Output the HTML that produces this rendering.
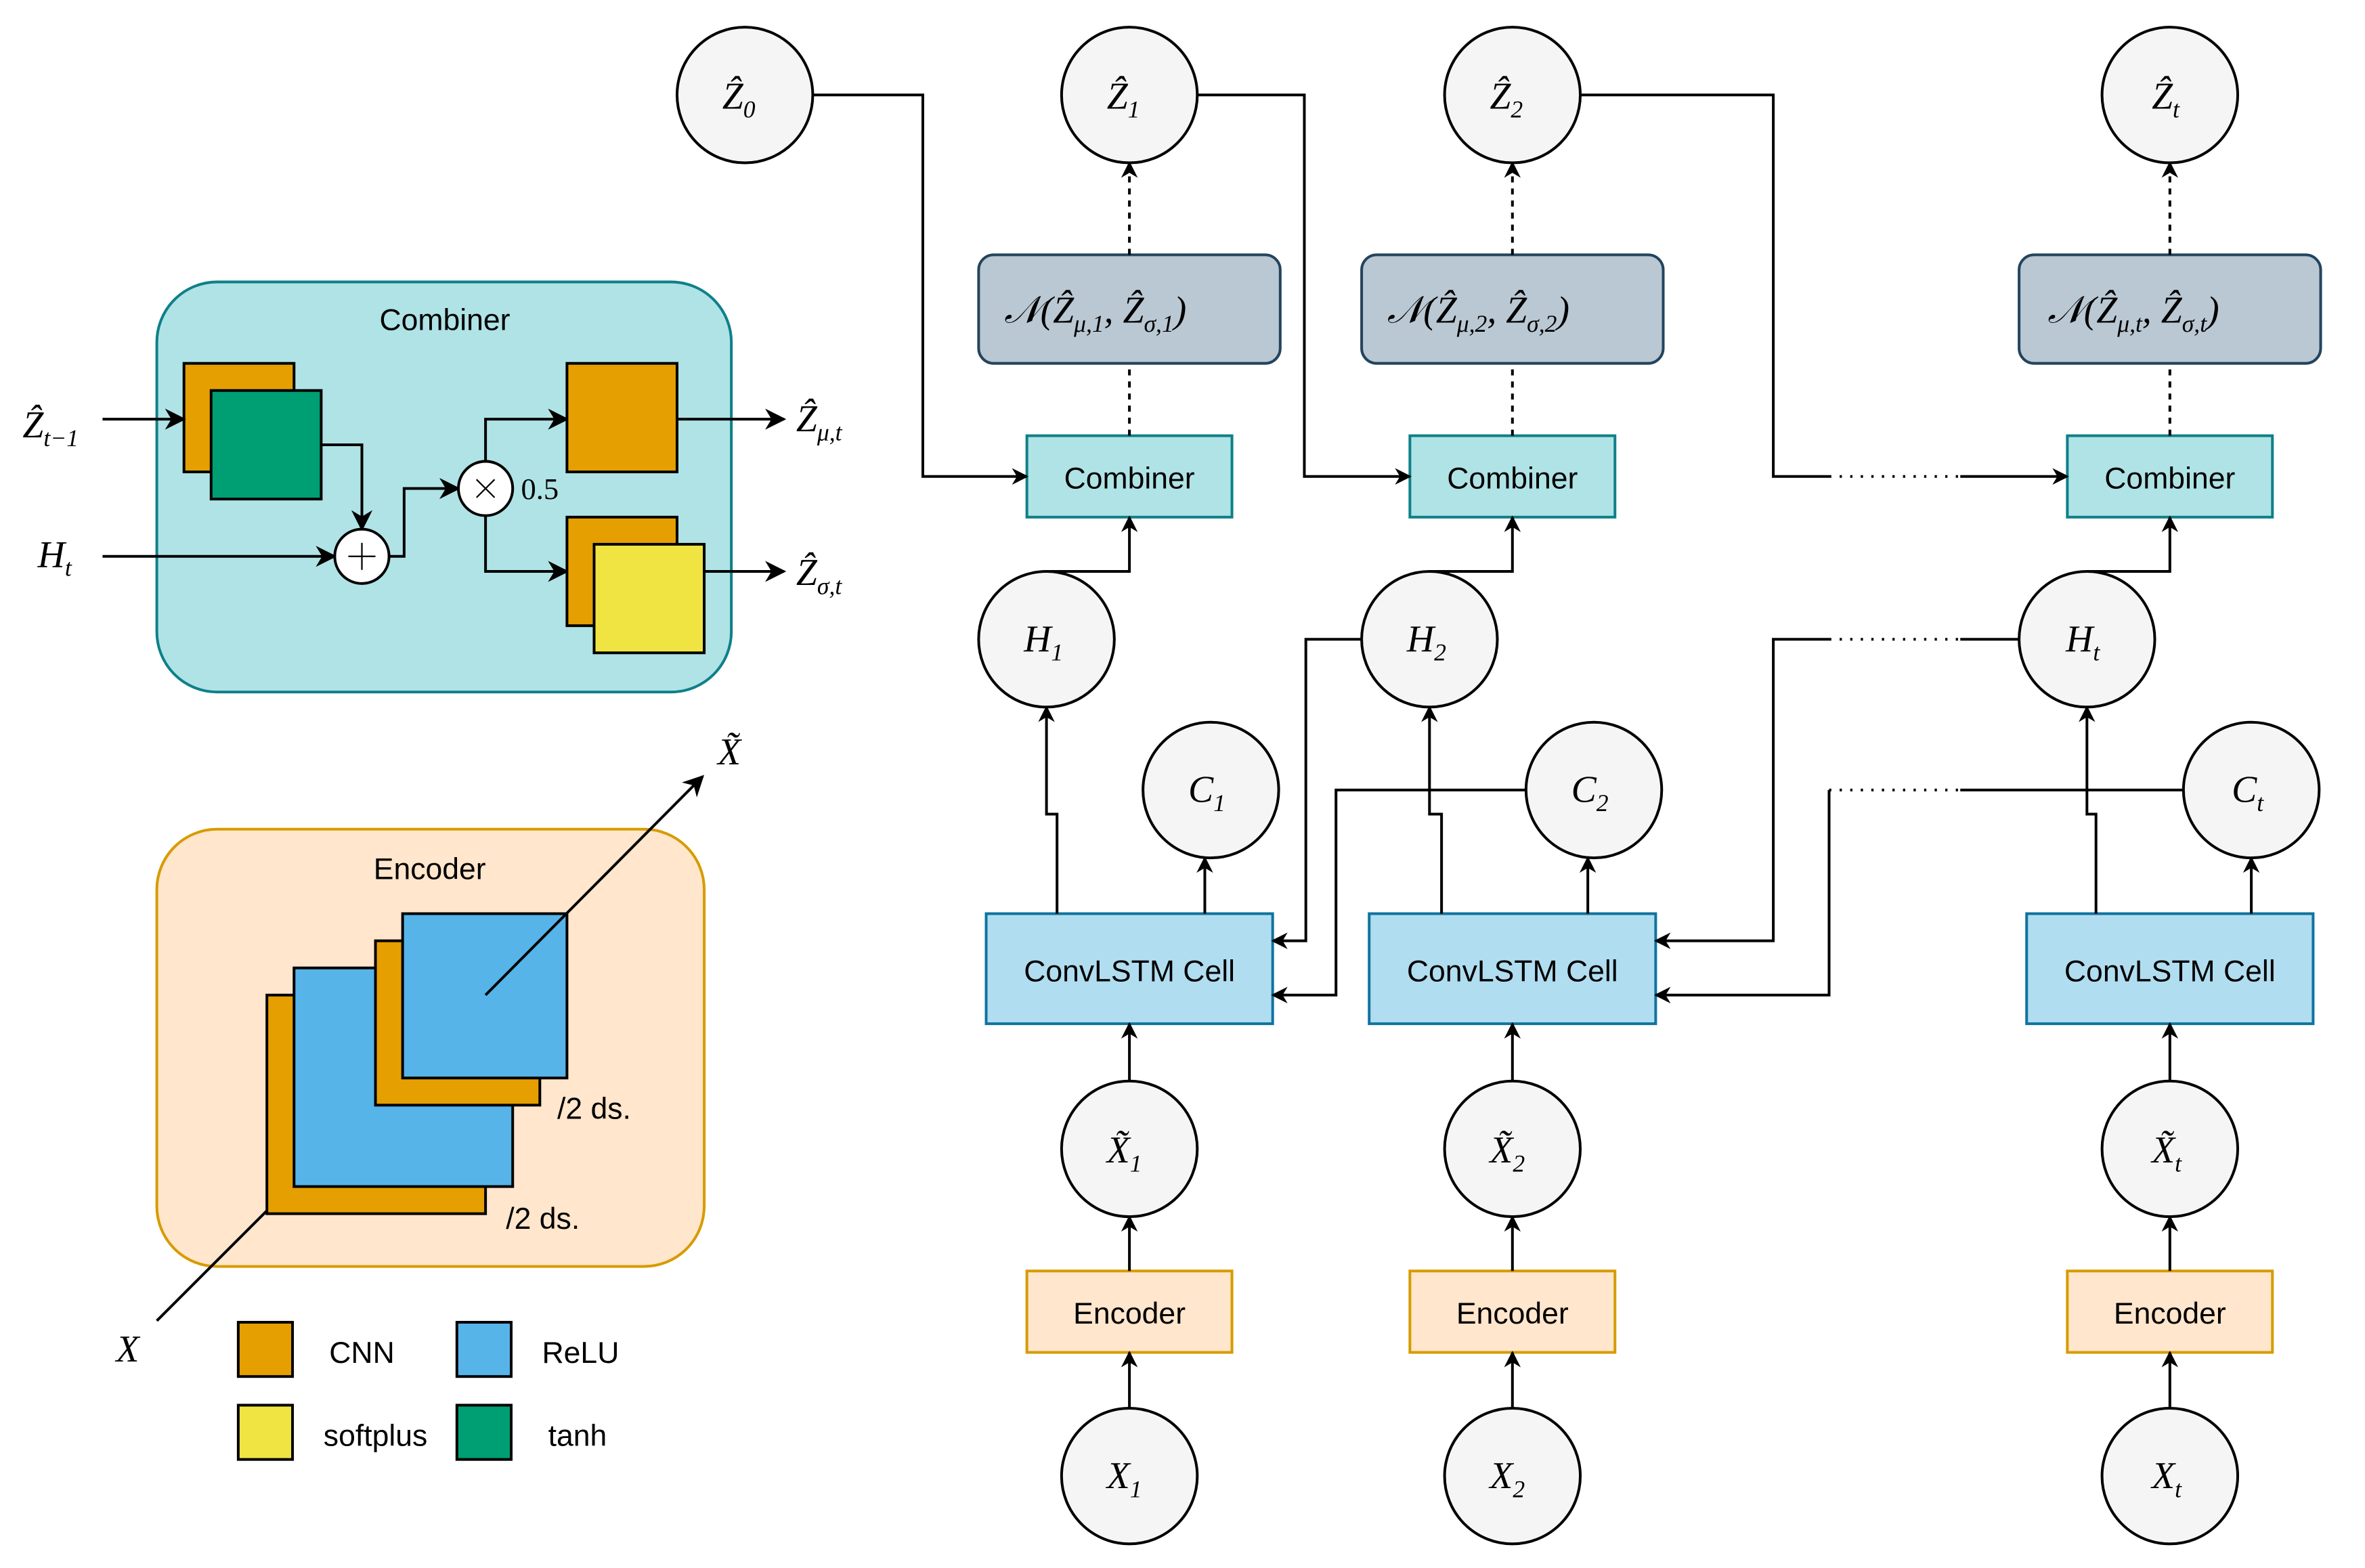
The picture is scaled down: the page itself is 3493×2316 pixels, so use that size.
<!DOCTYPE html>
<html><head><meta charset="utf-8"><style>
html,body{margin:0;padding:0;background:#fff;}
svg{display:block;}
text{font-family:"Liberation Sans",sans-serif;}
.m text{font-family:"Liberation Serif",serif;font-style:italic;}
</style></head><body>
<svg width="3493" height="2316" viewBox="0 0 1568.4 1040" preserveAspectRatio="none" xmlns="http://www.w3.org/2000/svg">
<defs>
<marker id="a" viewBox="0 0 10 10" refX="9" refY="5" markerWidth="11" markerHeight="11" markerUnits="userSpaceOnUse" orient="auto"><path d="M0,0 L10,5 L0,10 L3,5 z" fill="#000"/></marker>
<marker id="b" viewBox="0 0 10 10" refX="9" refY="5" markerWidth="14" markerHeight="14" markerUnits="userSpaceOnUse" orient="auto"><path d="M0,0 L10,5 L0,10 L3,5 z" fill="#000"/></marker>
</defs>
<g fill="none" stroke="#000" stroke-width="1.8">
<rect x="104" y="187" width="381" height="272" rx="40" fill="#b0e3e6" stroke="#0e8088"/>
<rect x="122" y="241" width="73" height="72" fill="#e69f00"/>
<rect x="140" y="259" width="73" height="72" fill="#009e73"/>
<line x1="68" y1="278" x2="122" y2="278" marker-end="url(#b)"/>
<polyline points="213,295 240,295 240,351" marker-end="url(#b)"/>
<line x1="68" y1="369" x2="222" y2="369" marker-end="url(#b)"/>
<circle cx="240" cy="369" r="18" fill="#fff"/>
<path d="M231,369 H249 M240,360 V378" stroke-width="1"/>
<polyline points="258,369 268,369 268,324 304,324" marker-end="url(#b)"/>
<circle cx="322" cy="324" r="18" fill="#fff"/>
<path d="M316,318 L328,330 M328,318 L316,330" stroke-width="1"/>
<polyline points="322,306 322,278 376,278" marker-end="url(#b)"/>
<polyline points="322,342 322,379 376,379" marker-end="url(#b)"/>
<rect x="376" y="241" width="73" height="72" fill="#e69f00"/>
<rect x="376" y="343" width="73" height="72" fill="#e69f00"/>
<rect x="394" y="361" width="73" height="72" fill="#f0e442"/>
<line x1="449" y1="278" x2="520" y2="278" marker-end="url(#b)"/>
<line x1="467" y1="379" x2="520" y2="379" marker-end="url(#b)"/>
<rect x="104" y="550" width="363" height="290" rx="40" fill="#ffe6cc" stroke="#d79b00"/>
<line x1="104" y1="876" x2="180" y2="800"/>
<rect x="177" y="660" width="145" height="145" fill="#e69f00"/>
<rect x="195" y="642" width="145" height="145" fill="#56b4e9"/>
<rect x="249" y="624" width="109" height="109" fill="#e69f00"/>
<rect x="267" y="606" width="109" height="109" fill="#56b4e9"/>
<line x1="322" y1="660" x2="466" y2="515" marker-end="url(#b)"/>
<rect x="158" y="877" width="36" height="36" fill="#e69f00"/>
<rect x="303" y="877" width="36" height="36" fill="#56b4e9"/>
<rect x="158" y="932" width="36" height="36" fill="#f0e442"/>
<rect x="303" y="932" width="36" height="36" fill="#009e73"/>

<g fill="#f5f5f5">
<circle cx="494" cy="63" r="45"/><circle cx="749" cy="63" r="45"/><circle cx="1003" cy="63" r="45"/><circle cx="1439" cy="63" r="45"/>
<circle cx="694" cy="424" r="45"/><circle cx="948" cy="424" r="45"/><circle cx="1384" cy="424" r="45"/>
<circle cx="803" cy="524" r="45"/><circle cx="1057" cy="524" r="45"/><circle cx="1493" cy="524" r="45"/>
<circle cx="749" cy="762" r="45"/><circle cx="1003" cy="762" r="45"/><circle cx="1439" cy="762" r="45"/>
<circle cx="749" cy="979" r="45"/><circle cx="1003" cy="979" r="45"/><circle cx="1439" cy="979" r="45"/>
</g>
<g fill="#bac8d3" stroke="#23445d">
<rect x="649" y="169" width="200" height="72" rx="10"/><rect x="903" y="169" width="200" height="72" rx="10"/><rect x="1339" y="169" width="200" height="72" rx="10"/>
</g>
<g fill="#b0e3e6" stroke="#0e8088">
<rect x="681" y="289" width="136" height="54"/><rect x="935" y="289" width="136" height="54"/><rect x="1371" y="289" width="136" height="54"/>
</g>
<g fill="#b1ddf0" stroke="#10739e">
<rect x="654" y="606" width="190" height="73"/><rect x="908" y="606" width="190" height="73"/><rect x="1344" y="606" width="190" height="73"/>
</g>
<g fill="#ffe6cc" stroke="#d79b00">
<rect x="681" y="843" width="136" height="54"/><rect x="935" y="843" width="136" height="54"/><rect x="1371" y="843" width="136" height="54"/>
</g>
<g stroke-dasharray="4,4">
<line x1="749" y1="169" x2="749" y2="108" marker-end="url(#a)"/>
<line x1="1003" y1="169" x2="1003" y2="108" marker-end="url(#a)"/>
<line x1="1439" y1="169" x2="1439" y2="108" marker-end="url(#a)"/>
<line x1="749" y1="289" x2="749" y2="241"/>
<line x1="1003" y1="289" x2="1003" y2="241"/>
<line x1="1439" y1="289" x2="1439" y2="241"/>
</g>
<g stroke-dasharray="1.5,5.5">
<line x1="1213" y1="316" x2="1300" y2="316"/>
<line x1="1213" y1="424" x2="1300" y2="424"/>
<line x1="1213" y1="524" x2="1300" y2="524"/>
</g>
<polyline points="539,63 612,63 612,316 681,316" marker-end="url(#a)"/>
<polyline points="794,63 865,63 865,316 935,316" marker-end="url(#a)"/>
<polyline points="1048,63 1176,63 1176,316 1213,316"/>
<line x1="1300" y1="316" x2="1371" y2="316" marker-end="url(#a)"/>
<polyline points="694,379 749,379 749,343" marker-end="url(#a)"/>
<polyline points="948,379 1003,379 1003,343" marker-end="url(#a)"/>
<polyline points="1384,379 1439,379 1439,343" marker-end="url(#a)"/>
<polyline points="701,606 701,540 694,540 694,469" marker-end="url(#a)"/>
<line x1="799" y1="606" x2="799" y2="569" marker-end="url(#a)"/>
<polyline points="956,606 956,540 948,540 948,469" marker-end="url(#a)"/>
<line x1="1053" y1="606" x2="1053" y2="569" marker-end="url(#a)"/>
<polyline points="1390,606 1390,540 1384,540 1384,469" marker-end="url(#a)"/>
<line x1="1493" y1="606" x2="1493" y2="569" marker-end="url(#a)"/>
<polyline points="903,424 866,424 866,624 844,624" marker-end="url(#a)"/>
<polyline points="1012,524 886,524 886,660 844,660" marker-end="url(#a)"/>
<line x1="1339" y1="424" x2="1300" y2="424"/>
<polyline points="1213,424 1176,424 1176,624 1098,624" marker-end="url(#a)"/>
<line x1="1448" y1="524" x2="1300" y2="524"/>
<polyline points="1213,524 1213,660 1098,660" marker-end="url(#a)"/>
<line x1="749" y1="717" x2="749" y2="679" marker-end="url(#a)"/>
<line x1="1003" y1="717" x2="1003" y2="679" marker-end="url(#a)"/>
<line x1="1439" y1="717" x2="1439" y2="679" marker-end="url(#a)"/>
<line x1="749" y1="843" x2="749" y2="807" marker-end="url(#a)"/>
<line x1="1003" y1="843" x2="1003" y2="807" marker-end="url(#a)"/>
<line x1="1439" y1="843" x2="1439" y2="807" marker-end="url(#a)"/>
<line x1="749" y1="934" x2="749" y2="897" marker-end="url(#a)"/>
<line x1="1003" y1="934" x2="1003" y2="897" marker-end="url(#a)"/>
<line x1="1439" y1="934" x2="1439" y2="897" marker-end="url(#a)"/>
</g>

<g font-size="20" fill="#000" text-anchor="middle">
<text x="295" y="219">Combiner</text>
<text x="285" y="583">Encoder</text>
<text x="749" y="324">Combiner</text><text x="1003" y="324">Combiner</text><text x="1439" y="324">Combiner</text>
<text x="749" y="651">ConvLSTM Cell</text><text x="1003" y="651">ConvLSTM Cell</text><text x="1439" y="651">ConvLSTM Cell</text>
<text x="749" y="878">Encoder</text><text x="1003" y="878">Encoder</text><text x="1439" y="878">Encoder</text>
<text x="240" y="904">CNN</text><text x="385" y="904">ReLU</text><text x="249" y="959">softplus</text><text x="383" y="959">tanh</text>
<text x="394" y="742">/2 ds.</text><text x="360" y="815">/2 ds.</text>
<text x="358" y="331" font-size="20" style="font-family:'Liberation Serif',serif">0.5</text>
</g>
<g font-size="25" fill="#000" class="m">
<text x="15" y="290">Ẑ<tspan font-size="16" dy="6">t−1</tspan></text>
<text x="25" y="376">H<tspan font-size="16" dy="6">t</tspan></text>
<text x="528" y="286">Ẑ<tspan font-size="16" dy="6">μ,t</tspan></text>
<text x="528" y="388">Ẑ<tspan font-size="16" dy="6">σ,t</tspan></text>
<text x="476" y="507">X̃</text>
<text x="77" y="903">X</text>
<text x="479" y="72">Ẑ<tspan font-size="16" dy="6">0</tspan></text>
<text x="734" y="72">Ẑ<tspan font-size="16" dy="6">1</tspan></text>
<text x="988" y="72">Ẑ<tspan font-size="16" dy="6">2</tspan></text>
<text x="1427" y="72">Ẑ<tspan font-size="16" dy="6">t</tspan></text>
<text x="679" y="432">H<tspan font-size="16" dy="6">1</tspan></text>
<text x="933" y="432">H<tspan font-size="16" dy="6">2</tspan></text>
<text x="1370" y="432">H<tspan font-size="16" dy="6">t</tspan></text>
<text x="788" y="532">C<tspan font-size="16" dy="6">1</tspan></text>
<text x="1042" y="532">C<tspan font-size="16" dy="6">2</tspan></text>
<text x="1480" y="532">C<tspan font-size="16" dy="6">t</tspan></text>
<text x="734" y="771">X̃<tspan font-size="16" dy="6">1</tspan></text>
<text x="988" y="771">X̃<tspan font-size="16" dy="6">2</tspan></text>
<text x="1427" y="771">X̃<tspan font-size="16" dy="6">t</tspan></text>
<text x="734" y="987">X<tspan font-size="16" dy="6">1</tspan></text>
<text x="988" y="987">X<tspan font-size="16" dy="6">2</tspan></text>
<text x="1427" y="987">X<tspan font-size="16" dy="6">t</tspan></text>
<text x="666" y="214">𝒩(Ẑ<tspan font-size="16" dy="6">μ,1</tspan><tspan dy="-6">, Ẑ</tspan><tspan font-size="16" dy="6">σ,1</tspan><tspan dy="-6">)</tspan></text>
<text x="920" y="214">𝒩(Ẑ<tspan font-size="16" dy="6">μ,2</tspan><tspan dy="-6">, Ẑ</tspan><tspan font-size="16" dy="6">σ,2</tspan><tspan dy="-6">)</tspan></text>
<text x="1358" y="214">𝒩(Ẑ<tspan font-size="16" dy="6">μ,t</tspan><tspan dy="-6">, Ẑ</tspan><tspan font-size="16" dy="6">σ,t</tspan><tspan dy="-6">)</tspan></text>
</g>
</svg>
</body></html>
